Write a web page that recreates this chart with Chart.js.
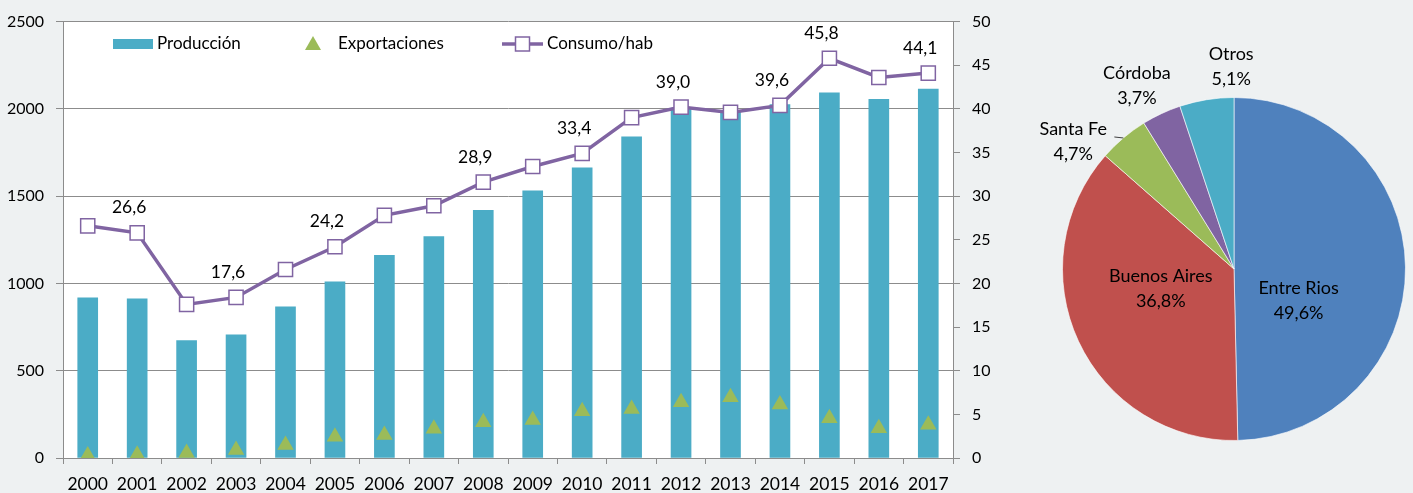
<!DOCTYPE html>
<html>
<head>
<meta charset="utf-8">
<script src="https://cdn.jsdelivr.net/npm/chart.js@4.4.1/dist/chart.umd.min.js"></script>
<style>
body { margin: 0; background: #eef1f2; }
#wrap { position: relative; width: 1413px; height: 493px; }
#combo { position: absolute; left: 0; top: 0; }
#torta { position: absolute; left: 1010px; top: 0; }
</style>
</head>
<body>
<div id="wrap">
  <canvas id="combo" width="1010" height="493"></canvas>
  <canvas id="torta" width="403" height="493"></canvas>
</div>
<script>
// datos
const anios = ['2000','2001','2002','2003','2004','2005','2006','2007','2008',
               '2009','2010','2011','2012','2013','2014','2015','2016','2017'];
const produccion = [918, 912, 672, 706, 866, 1009, 1161, 1268, 1419,
                    1530, 1663, 1840, 2005, 1985, 2025, 2092, 2054, 2113];
const exportaciones = [14, 18, 29, 46, 75, 122, 132, 167, 205,
                       218, 268, 281, 319, 348, 306, 228, 170, 191];
const consumoHab = [26.6, 25.8, 17.6, 18.4, 21.6, 24.2, 27.8, 28.9, 31.6,
                    33.4, 34.9, 39.0, 40.2, 39.6, 40.4, 45.8, 43.6, 44.1];
const consumoEtiquetas = [null, '26,6', null, '17,6', null, '24,2', null, null, '28,9',
                          null, '33,4', null, '39,0', null, '39,6', '45,8', null, '44,1'];
const provincias = ['Entre Rios', 'Buenos Aires', 'Santa Fe', 'Córdoba', 'Otros'];
const participacion = [49.6, 36.8, 4.7, 3.7, 5.1];
const participacionTxt = ['49,6%', '36,8%', '4,7%', '3,7%', '5,1%'];

const AQUA = '#4BACC6', VERDE = '#9BBB59', VIOLETA = '#8064A2';
const GRIS = '#8c8c8c';
const FUENTE = 'Lato';

const fondoBlanco = {
    id: 'fondoBlanco',
    beforeDraw(chart) {
        const { ctx, chartArea: a } = chart;
        ctx.save();
        ctx.fillStyle = '#ffffff';
        ctx.fillRect(a.left, a.top, a.right - a.left, a.bottom - a.top);
        ctx.restore();
    }
};

const etiquetasConsumo = {
    id: 'etiquetasConsumo',
    afterDatasetsDraw(chart) {
        const { ctx } = chart;
        const meta = chart.getDatasetMeta(0);
        ctx.save();
        ctx.font = `17.5px ${FUENTE}`;
        ctx.fillStyle = '#000';
        ctx.textAlign = 'center';
        ctx.textBaseline = 'middle';
        consumoEtiquetas.forEach((t, i) => {
            if (!t) return;
            const p = meta.data[i];
            ctx.fillText(t, p.x - 8, p.y - 25);
        });
        ctx.restore();
    }
};

const leyenda = {
    id: 'leyenda',
    afterDraw(chart) {
        const { ctx } = chart;
        const y = 44;
        ctx.save();
        ctx.font = `17px ${FUENTE}`;
        ctx.textBaseline = 'middle';
        // Producción
        ctx.fillStyle = AQUA;
        ctx.fillRect(113, 39, 40, 10);
        ctx.fillStyle = '#000';
        ctx.fillText('Producción', 157, y);
        // Exportaciones
        ctx.fillStyle = VERDE;
        ctx.beginPath();
        ctx.moveTo(313, y - 8);
        ctx.lineTo(321, y + 6);
        ctx.lineTo(305, y + 6);
        ctx.closePath();
        ctx.fill();
        ctx.fillStyle = '#000';
        ctx.fillText('Exportaciones', 338, y);
        // Consumo/hab
        ctx.strokeStyle = VIOLETA;
        ctx.lineWidth = 3.5;
        ctx.beginPath();
        ctx.moveTo(502, y);
        ctx.lineTo(543, y);
        ctx.stroke();
        ctx.fillStyle = '#fff';
        ctx.lineWidth = 1.5;
        ctx.fillRect(515.5, y - 7, 14, 14);
        ctx.strokeRect(515.5, y - 7, 14, 14);
        ctx.fillStyle = '#000';
        ctx.fillText('Consumo/hab', 547, y);
        ctx.restore();
    }
};

new Chart(document.getElementById('combo'), {
    type: 'bar',
    data: {
        labels: anios,
        datasets: [{
            type: 'line',
            label: 'Consumo/hab',
            data: consumoHab,
            yAxisID: 'y1',
            borderColor: VIOLETA,
            borderWidth: 3.5,
            pointStyle: 'rect',
            pointRadius: 10,
            pointBackgroundColor: '#fff',
            pointBorderColor: VIOLETA,
            pointBorderWidth: 1.5,
            tension: 0,
            order: 0
        }, {
            type: 'line',
            label: 'Exportaciones',
            data: exportaciones,
            yAxisID: 'y',
            showLine: false,
            pointStyle: 'triangle',
            pointRadius: 9.5,
            pointBackgroundColor: VERDE,
            pointBorderColor: VERDE,
            pointBorderWidth: 0,
            order: 1
        }, {
            type: 'bar',
            label: 'Producción',
            data: produccion,
            yAxisID: 'y',
            backgroundColor: AQUA,
            barThickness: 20,
            order: 2
        }]
    },
    options: {
        responsive: false,
        animation: false,
        devicePixelRatio: 1,
        layout: { padding: { top: 21, bottom: 0, left: 0, right: 0 } },
        plugins: { legend: { display: false }, tooltip: { enabled: false } },
        scales: {
            x: {
                grid: { drawOnChartArea: false, offset: true, tickLength: 6, color: GRIS },
                border: { color: GRIS },
                ticks: { color: '#000', font: { family: FUENTE, size: 17.5 }, padding: 10,
                         maxRotation: 0, autoSkip: false },
                afterFit: s => { s.height = 35; }
            },
            y: {
                position: 'left',
                min: 0, max: 2500,
                grid: { color: GRIS, tickLength: 7 },
                border: { color: GRIS },
                ticks: { stepSize: 500, color: '#000', font: { family: FUENTE, size: 16 }, padding: 12,
                         callback: v => String(v) },
                afterFit: s => { s.width = 63; }
            },
            y1: {
                position: 'right',
                min: 0, max: 50,
                grid: { drawOnChartArea: false, color: GRIS, tickLength: 7 },
                border: { color: GRIS },
                ticks: { stepSize: 5, color: '#000', font: { family: FUENTE, size: 16 }, padding: 12,
                         callback: v => String(v) },
                afterFit: s => { s.width = 57; }
            }
        }
    },
    plugins: [fondoBlanco, etiquetasConsumo, leyenda]
});

// etiquetas de la torta: desplazamiento respecto de la posición radial
const ajusteEtiquetas = [[-4, 32], [-11, -9], [-28, 30], [-10, 3], [30, 1]];

const etiquetasTorta = {
    id: 'etiquetasTorta',
    afterDatasetsDraw(chart) {
        const { ctx } = chart;
        const meta = chart.getDatasetMeta(0);
        ctx.save();
        ctx.font = `18px ${FUENTE}`;
        ctx.fillStyle = '#000';
        ctx.textAlign = 'center';
        ctx.textBaseline = 'middle';
        meta.data.forEach((arc, i) => {
            const mid = (arc.startAngle + arc.endAngle) / 2;
            const r = arc.outerRadius;
            const f = participacion[i] > 10 ? 0.4 : 1.2;
            const x = arc.x + Math.cos(mid) * r * f + ajusteEtiquetas[i][0];
            const y = arc.y + Math.sin(mid) * r * f + ajusteEtiquetas[i][1];
            ctx.fillText(provincias[i], x, y - 12.5);
            ctx.fillText(participacionTxt[i], x, y + 12.5);
            if (provincias[i] === 'Santa Fe') {
                const ex = arc.x + Math.cos(mid) * r;
                const ey = arc.y + Math.sin(mid) * r;
                ctx.strokeStyle = '#404040';
                ctx.lineWidth = 1;
                ctx.beginPath();
                ctx.moveTo(ex, ey);
                ctx.lineTo(ex - 9, ey - 1);
                ctx.stroke();
            }
        });
        ctx.restore();
    }
};

new Chart(document.getElementById('torta'), {
    type: 'pie',
    data: {
        labels: provincias,
        datasets: [{
            data: participacion,
            backgroundColor: ['#4F81BD', '#C0504D', VERDE, VIOLETA, AQUA],
            borderColor: 'rgba(255,255,255,0.6)',
            borderWidth: 1
        }]
    },
    options: {
        responsive: false,
        animation: false,
        devicePixelRatio: 1,
        layout: { padding: { left: 52, right: 7, top: 97, bottom: 52 } },
        plugins: { legend: { display: false }, tooltip: { enabled: false } }
    },
    plugins: [etiquetasTorta]
});
</script>
</body>
</html>
